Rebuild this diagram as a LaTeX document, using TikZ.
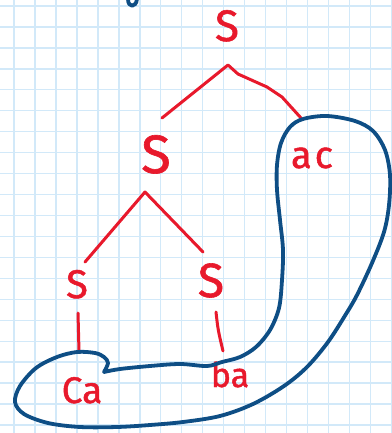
\documentclass[tikz,border=0pt]{standalone}
\usepackage{fontspec}
\setmainfont{Fira Sans}
\newfontfamily\hand{Fira Sans}[FakeBold=1.2]
\definecolor{gridblue}{HTML}{D2E9F9}
\definecolor{inkred}{HTML}{E8192C}
\definecolor{inkblue}{HTML}{0E4E85}
\begin{document}
\begin{tikzpicture}[x=1pt,y=-1pt,
  lbl/.style={text=inkred,inner sep=0pt,anchor=base},
  edge/.style={draw=inkred,line width=3pt,line cap=round,line join=round},
  loop/.style={draw=inkblue,line width=3.8pt,line cap=round,line join=round}]
\useasboundingbox (0,0) rectangle (391,433);
\fill[white] (0,0) rectangle (391,433);
% grid
\foreach \k in {0,...,18} \draw[gridblue,line width=1.4pt] ({14+20.97*\k},0) -- ({14+20.97*\k},433);
\foreach \k in {0,...,20} \draw[gridblue,line width=1.4pt] (0,{6+20.95*\k}) -- (391,{6+20.95*\k});
% labels
\node[lbl,font=\hand\fontsize{44}{44}\selectfont] (s0) at (227,41) {S};
\node[lbl,font=\hand\fontsize{54}{54}\selectfont] (s1) at (156,173) {S};
\node[lbl,font=\hand\fontsize{40}{40}\selectfont] (s2) at (77,298) {S};
\node[lbl,font=\hand\fontsize{48}{48}\selectfont] (s3) at (211,297) {S};
\node[lbl,font=\hand\fontsize{38}{38}\selectfont] (ac) at (312,168) {a\kern3pt c};
\node[lbl,font=\hand\fontsize{37}{37}\selectfont] (ca) at (82,403) {Ca};
\node[lbl,font=\hand\fontsize{34}{34}\selectfont] (ba) at (230,387) {ba};
% tree coordinates
\coordinate (a0) at (228,65);
\coordinate (l0) at (162,118);
\coordinate (r0) at (301,118);
\coordinate (a1) at (145,192);
\coordinate (l1) at (85,262);
\coordinate (r1) at (203,252);
\coordinate (t2) at (78,313);
\coordinate (b2) at (79,352);
\coordinate (t3) at (216,312);
\coordinate (b3) at (223,351);
\draw[edge] (l0) -- (a0) -- (238,74) -- (267,87) -- (282,97) -- (r0);
\draw[edge] (l1) -- (a1) -- (r1);
\draw[edge] (t2) -- (b2);
\draw[edge] (t3) .. controls (218,330) .. (b3);
% blue loop
\draw[loop] plot[smooth,tension=0.55] coordinates {
 (104,372) (120,369) (150,366) (180,364) (207,366) (222,362) (240,357) (256,347)
 (270,330) (279,308) (282,280) (283,250) (280,220) (277,190) (277,165) (281,143)
 (290,127) (303,119) (327,116) (355,121) (373,131) (385,150) (390,175) (389,205)
 (384,232) (372,263) (357,295) (346,314) (328,342) (307,367) (284,386) (253,404)
 (220,416) (183,422) (150,425) (117,427) (80,427) (48,423) (24,414) (15,402)
 (20,386) (36,368) (57,357) (77,352) (95,353) (104,357) (108,363) (104,372)};
% top blue mark
\draw[loop] (137,-1) .. controls (136,8) and (128,8) .. (128,-1);
\end{tikzpicture}
\end{document}
